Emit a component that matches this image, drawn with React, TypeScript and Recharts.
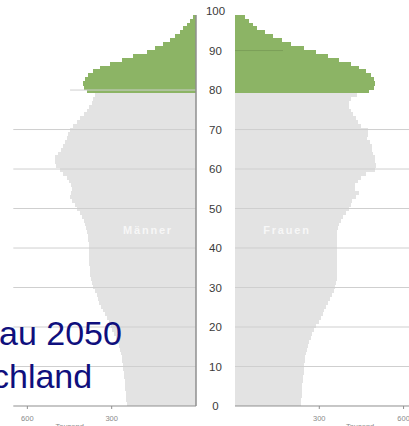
import { BarChart, Bar, XAxis, YAxis, ReferenceLine, Cell, Label } from "recharts";

// age groups 0..99 (one bar per year)
const ages = Array.from({ length: 100 }, (_, i) => i);

// Männer, Tausend, age 0 -> 99
const menValues = [
  247, 248, 249, 250, 251, 252, 254, 255, 256, 258,
  260, 262, 265, 268, 272, 275, 280, 285, 292, 298,
  304, 311, 318, 325, 332, 338, 344, 348, 353, 360,
  366, 371, 374, 376, 377, 378, 379, 380, 380, 381,
  381, 382, 383, 385, 387, 390, 394, 398, 405, 413,
  425, 432, 440, 448, 445, 442, 445, 452, 460, 472,
  485, 498, 502, 502, 490, 480, 472, 466, 460, 455,
  447, 436, 423, 412, 399, 388, 380, 371, 365, 359,
  387, 399, 403, 395, 383, 365, 342, 306, 265, 223,
  176, 146, 116, 93, 75, 57, 47, 33, 21, 12,
];

// Frauen, Tausend, age 0 -> 99
const womenValues = [
  234, 236, 237, 238, 239, 240, 242, 243, 244, 245,
  246, 248, 250, 253, 256, 260, 264, 269, 275, 282,
  289, 300, 306, 312, 318, 325, 332, 338, 345, 352,
  356, 360, 362, 362, 362, 362, 362, 362, 362, 362,
  362, 362, 363, 363, 364, 366, 370, 376, 385, 396,
  406, 412, 418, 430, 440, 428, 426, 438, 450, 465,
  500, 502, 500, 497, 492, 489, 486, 480, 471, 475,
  472, 449, 437, 429, 420, 412, 405, 405, 412, 435,
  477, 495, 500, 495, 483, 465, 442, 412, 370, 331,
  287, 245, 200, 168, 136, 107, 79, 65, 50, 36,
];

const ageTicks = [0, 10, 20, 30, 40, 50, 60, 70, 80, 90, 100];
const gridAges = [10, 20, 30, 40, 50, 60, 70];
const xTicks = [300, 600];
const oldAge = 80;

const GREEN = "#8cb465";
const GRAY = "#e3e3e3";
const AXIS = "#8f8f8f";
const GRID = "#cfcfcf";
const FONT = "'Liberation Sans', Arial, sans-serif";

const H = 426;
const TOP = 15;
const XAXIS_H = 20;
const band = (H - TOP - XAXIS_H) / ages.length;
const barSize = band - 0.01;

const menData = ages.map((age, i) => ({ age, value: menValues[i] }));
const womenData = ages.map((age, i) => ({ age, value: womenValues[i] }));

const AgeTick = (p: any) => (
  <text x={15.5} y={p.y} dy="0.36em" textAnchor="middle" fontSize={11.5} fill="#3a3a3a" fontFamily={FONT}>
    {p.payload.value}
  </text>
);

const xTick = { fontSize: 7.5, fill: "#8a8a8a" };
const colorOf = (age: number) => (age >= oldAge ? GREEN : GRAY);

// bars drawn with a hairline of their own colour so neighbouring years don't show seams
const YearBar = (p: any) => {
  const { x, y, width, height, payload } = p;
  if (!width) return null;
  const c = colorOf(payload.age);
  const left = Math.min(x, x + width);
  return <rect x={left} y={y - 0.3} width={Math.abs(width)} height={height + 0.6} fill={c} shapeRendering="crispEdges" />;
};

export default function App() {
  return (
    <div style={{ position: "absolute", left: 0, top: 0, width: 409, height: 426, overflow: "hidden", background: "#fff", fontFamily: FONT }}>
      {/* Männer */}
      <div style={{ position: "absolute", left: 0, top: 0 }}>
        <BarChart layout="vertical" width={200} height={H} data={menData}
          margin={{ top: TOP, right: 0, bottom: 0, left: 13.3 }} barCategoryGap={0} barGap={0}>
          <XAxis type="number" domain={[0, 650]} allowDataOverflow reversed ticks={xTicks} height={XAXIS_H}
            tickSize={3} tickMargin={7} tick={xTick} axisLine={{ stroke: AXIS }} tickLine={{ stroke: AXIS }}>
            <Label value="Tausend" position="insideBottom" offset={-3} dx={-35} fontSize={7.5} fill="#8a8a8a" />
          </XAxis>
          <YAxis yAxisId="cat" type="category" dataKey="age" hide reversed />
          <YAxis yAxisId="num" type="number" orientation="right" domain={[0, 100]} allowDataOverflow reversed
            ticks={ageTicks} width={4} tick={false} tickSize={5}
            axisLine={{ stroke: AXIS, strokeWidth: 1.5 }} tickLine={{ stroke: AXIS }} />
          <Bar yAxisId="cat" dataKey="value" barSize={barSize} shape={YearBar} isAnimationActive={false}>
            {menData.map((d) => (
              <Cell key={d.age} fill={colorOf(d.age)} />
            ))}
          </Bar>
          {gridAges.map((a) => (
            <ReferenceLine key={a} yAxisId="num" y={a} stroke={GRID} />
          ))}
          <ReferenceLine yAxisId="num" segment={[{ x: 448, y: 80 }, { x: 0, y: 80 }]} stroke={GRID} />
        </BarChart>
      </div>

      {/* Frauen */}
      <div style={{ position: "absolute", left: 200, top: 0 }}>
        <BarChart layout="vertical" width={209.2} height={H} data={womenData}
          margin={{ top: TOP, right: 0, bottom: 0, left: 0 }} barCategoryGap={0} barGap={0}>
          <XAxis type="number" domain={[0, 620]} allowDataOverflow ticks={xTicks} height={XAXIS_H}
            tickSize={3} tickMargin={7} tick={xTick} axisLine={{ stroke: AXIS }} tickLine={{ stroke: AXIS }}>
            <Label value="Tausend" position="insideBottom" offset={-3} dx={38} fontSize={7.5} fill="#8a8a8a" />
          </XAxis>
          <YAxis yAxisId="cat" type="category" dataKey="age" hide reversed />
          <YAxis yAxisId="num" type="number" orientation="left" domain={[0, 100]} allowDataOverflow reversed
            ticks={ageTicks} width={35} tick={AgeTick} tickSize={5}
            axisLine={{ stroke: AXIS, strokeWidth: 1.5 }} tickLine={{ stroke: AXIS }} />
          <Bar yAxisId="cat" dataKey="value" barSize={barSize} shape={YearBar} isAnimationActive={false}>
            {womenData.map((d) => (
              <Cell key={d.age} fill={colorOf(d.age)} />
            ))}
          </Bar>
          {gridAges.map((a) => (
            <ReferenceLine key={a} yAxisId="num" y={a} stroke={GRID} />
          ))}
          <ReferenceLine yAxisId="num" segment={[{ x: 0, y: 90 }, { x: 171, y: 90 }]} stroke="rgba(0,0,0,0.12)" />
        </BarChart>
      </div>

      {/* labels and clipped slide title */}
      <svg width={409} height={426} style={{ position: "absolute", left: 0, top: 0, pointerEvents: "none" }}>
        <text x={148} y={233.5} textAnchor="middle" fontSize={11} fontWeight="bold" letterSpacing={1.8} fill="#f7f7f7" fontFamily={FONT}>Männer</text>
        <text x={287} y={233.5} textAnchor="middle" fontSize={11} fontWeight="bold" letterSpacing={1.8} fill="#f7f7f7" fontFamily={FONT}>Frauen</text>
        <text x={-1} y={345} fontSize={34} fill="#0f0f7d" fontFamily={FONT}>au 2050</text>
        <text x={-8} y={388} fontSize={34} fill="#0f0f7d" fontFamily={FONT}>chland</text>
      </svg>
    </div>
  );
}
